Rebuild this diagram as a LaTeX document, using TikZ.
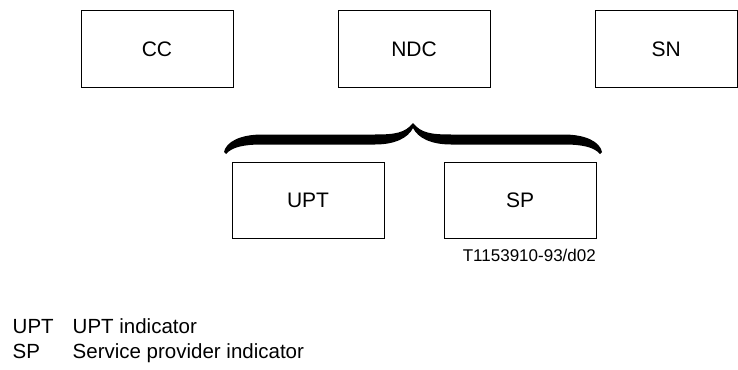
\documentclass[tikz,border=0pt]{standalone}
\usepackage{fontspec}
\setmainfont{Liberation Sans}
\begin{document}
\begin{tikzpicture}[x=1pt,y=-1pt,
  box/.style={draw=black,line width=1pt,minimum width=152pt,minimum height=76pt,inner sep=0pt,font=\fontsize{21}{24}\selectfont},
  legend/.style={anchor=base west,inner sep=0pt,font=\fontsize{20.5}{24}\selectfont},
  ref/.style={anchor=base east,inner sep=0pt,font=\fontsize{17}{20}\selectfont}]
\useasboundingbox (0,0) rectangle (738,369);
% top row
\node[box] (cc)  at (157,49) {CC};
\node[box] (ndc) at (414,49) {NDC};
\node[box,minimum width=141.5pt] (sn) at (666.25,49) {SN};
% bottom row
\node[box] (upt) at (308,200) {UPT};
\node[box] (sp)  at (520,200) {SP};
% brace
\coordinate (tip) at (413,123);
\fill[black] (tip)
  .. controls (405,133) and (395,134.5) .. (375,134.5) -- (262,134.5)
  .. controls (240,134.5) and (226,142) .. (224,152)
  -- (226,154)
  .. controls (232,147) and (244,144.5) .. (262,144.5) -- (375,144.5)
  .. controls (395,144.5) and (408,138) .. (413,128)
  .. controls (418,138) and (431,144.5) .. (451,144.5) -- (564,144.5)
  .. controls (582,144.5) and (594,147) .. (600,154)
  -- (602,152)
  .. controls (600,142) and (586,134.5) .. (564,134.5) -- (451,134.5)
  .. controls (431,134.5) and (421,133) .. (tip) -- cycle;
% figure reference
\node[ref] (figref) at (596,261) {T1153910-93/d02};
% legend
\node[legend] (k1) at (12.5,333) {UPT};
\node[legend] (v1) at (72.5,333) {UPT indicator};
\node[legend] (k2) at (12.5,358) {SP};
\node[legend] (v2) at (72.5,358) {Service provider indicator};
\end{tikzpicture}
\end{document}
